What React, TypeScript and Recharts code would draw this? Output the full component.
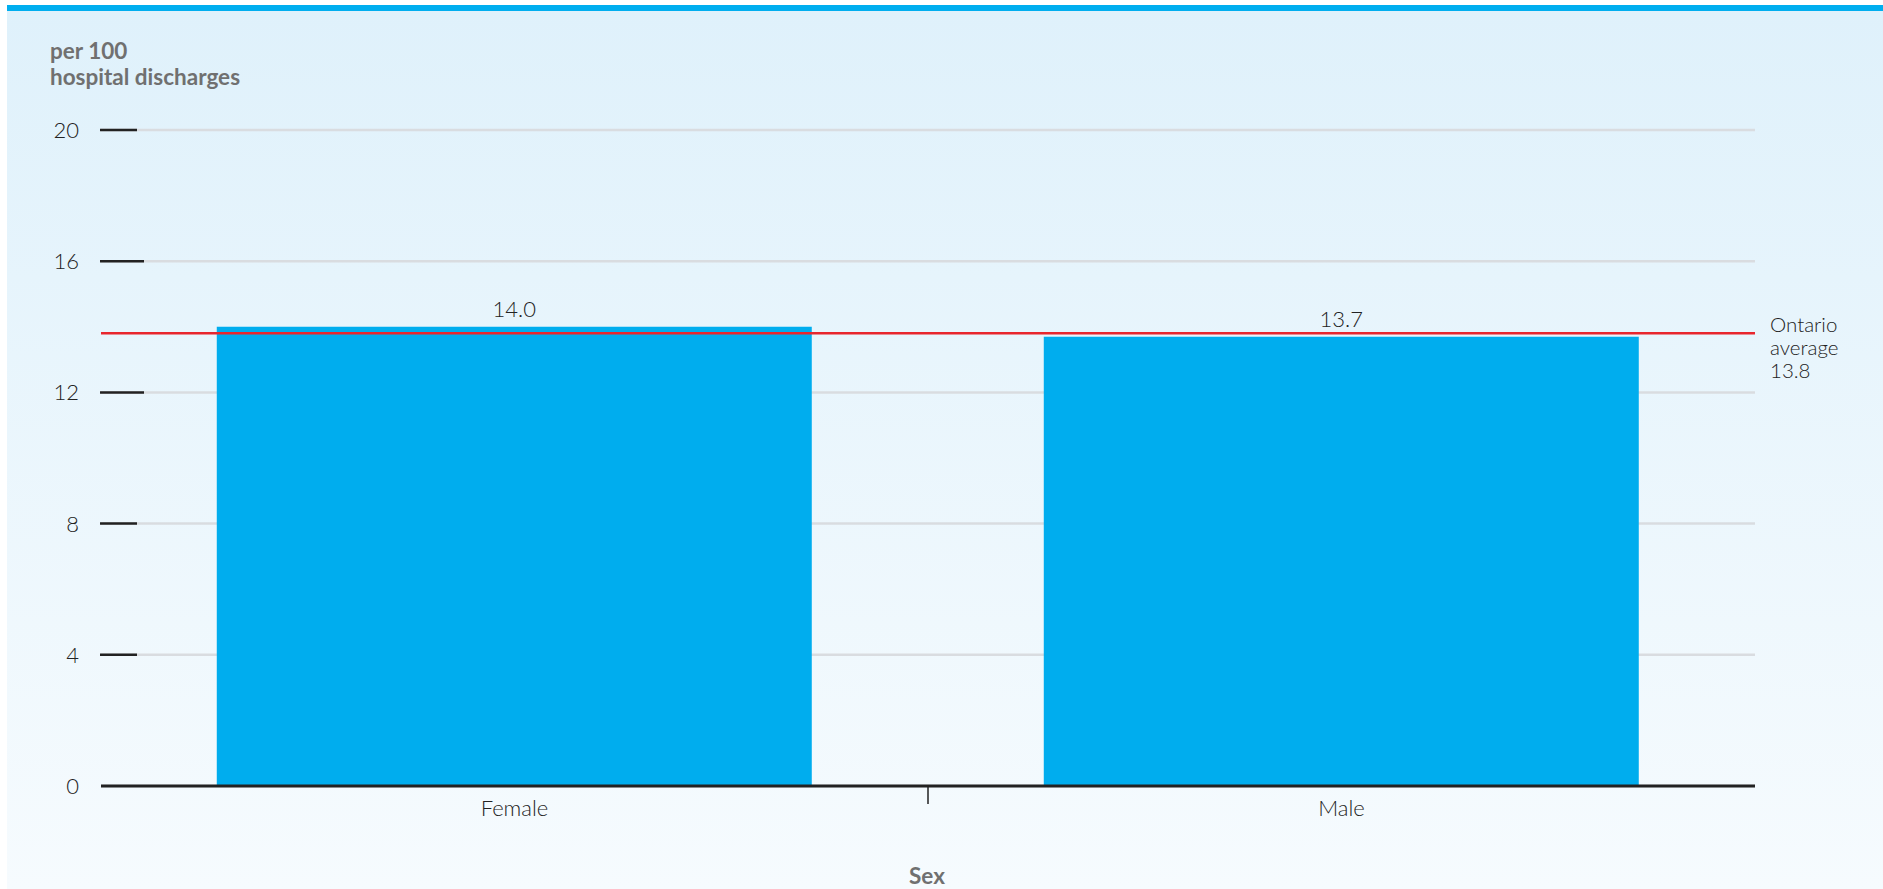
import React from 'react';
import { BarChart, Bar, XAxis, YAxis, CartesianGrid, ReferenceLine, LabelList } from 'recharts';

const categories = ['Female', 'Male'];
const rates = [14.0, 13.7];
const yTicks = [0, 4, 8, 12, 16, 20];
const ontarioAverage = 13.8;
const averageLabel = ['Ontario', 'average', '13.8'];
const yTitle = ['per 100', 'hospital discharges'];
const xTitle = 'Sex';

const data = categories.map((name, i) => ({ name, rate: rates[i] }));

const W = 1883;
const H = 889;
const FONT = 'Lato, "Open Sans", sans-serif';
const AXIS_Y = 786;
const FS = 22;

const YTick = (props: any) => {
  const { y, payload } = props;
  const long = payload.value === 12 || payload.value === 16;
  return (
    <g>
      <text x={79} y={y} dy={8} textAnchor="end" fontSize={FS} fontWeight={300} fill="#222" fontFamily={FONT}>
        {payload.value}
      </text>
      {payload.value !== 0 && (
        <line x1={100} x2={long ? 144 : 137} y1={y} y2={y} stroke="#222" strokeWidth={2.5} />
      )}
    </g>
  );
};

const XTick = (props: any) => {
  const { x, payload, index } = props;
  const half = payload.offset || 413;
  return (
    <g>
      <text x={x} y={AXIS_Y + 30} textAnchor="middle" fontSize={FS} fontWeight={300} fill="#222" fontFamily={FONT}>
        {payload.value}
      </text>
      {index === 0 && (
        <line x1={x + half} x2={x + half} y1={AXIS_Y} y2={AXIS_Y + 18} stroke="#222" strokeWidth={1.5} />
      )}
    </g>
  );
};

const AvgLabel = (props: any) => {
  const { viewBox } = props;
  const x = viewBox.x + viewBox.width + 15;
  const y = viewBox.y;
  return (
    <g>
      {averageLabel.map((t, i) => (
        <text key={t} x={x} y={y - 1 + i * 23} fontSize={20.5} fontWeight={300} fill="#222" fontFamily={FONT}>
          {t}
        </text>
      ))}
    </g>
  );
};

export default function App() {
  return (
    <div style={{ position: 'absolute', left: 0, top: 0, width: W, height: H, background: '#fff', overflow: 'hidden' }}>
      <div
        style={{
          position: 'absolute',
          left: 7,
          top: 5,
          right: 0,
          bottom: 0,
          background: 'linear-gradient(to bottom, #dff1fb 0%, #f6fbfe 100%)',
          borderTop: '6px solid #00aeef',
        }}
      />
      <div
        style={{
          position: 'absolute',
          left: 50,
          top: 38,
          fontFamily: FONT,
          fontWeight: 700,
          fontSize: 22.5,
          lineHeight: '26px',
          color: '#707070',
        }}
      >
        {yTitle.map((t) => (
          <div key={t}>{t}</div>
        ))}
      </div>
      <div
        style={{
          position: 'absolute',
          left: 0,
          width: 1854,
          top: 862,
          textAlign: 'center',
          fontFamily: FONT,
          fontWeight: 700,
          fontSize: 22.5,
          color: '#707070',
        }}
      >
        {xTitle}
      </div>
      <div style={{ position: 'absolute', left: 0, top: 0 }}>
        <BarChart
          width={W}
          height={H}
          data={data}
          margin={{ top: 130, right: 128, left: 0, bottom: 0 }}
          barCategoryGap="14%"
        >
          <CartesianGrid vertical={false} stroke="#d9dce0" strokeWidth={2.5} />
          <YAxis
            type="number"
            domain={[0, 20]}
            ticks={yTicks}
            width={101}
            axisLine={false}
            tickLine={false}
            tick={<YTick />}
          />
          <XAxis
            dataKey="name"
            height={103}
            axisLine={{ stroke: '#222', strokeWidth: 3 }}
            tickLine={false}
            tick={<XTick />}
            interval={0}
          />
          <Bar dataKey="rate" fill="#00adee" isAnimationActive={false}>
            <LabelList
              dataKey="rate"
              position="top"
              offset={10}
              formatter={(v: any) => Number(v).toFixed(1)}
              style={{ fontSize: FS, fontWeight: 300, fill: '#222', fontFamily: FONT }}
            />
          </Bar>
          <ReferenceLine y={ontarioAverage} stroke="#e8262d" strokeWidth={2.5} label={<AvgLabel />} />
        </BarChart>
      </div>
    </div>
  );
}
